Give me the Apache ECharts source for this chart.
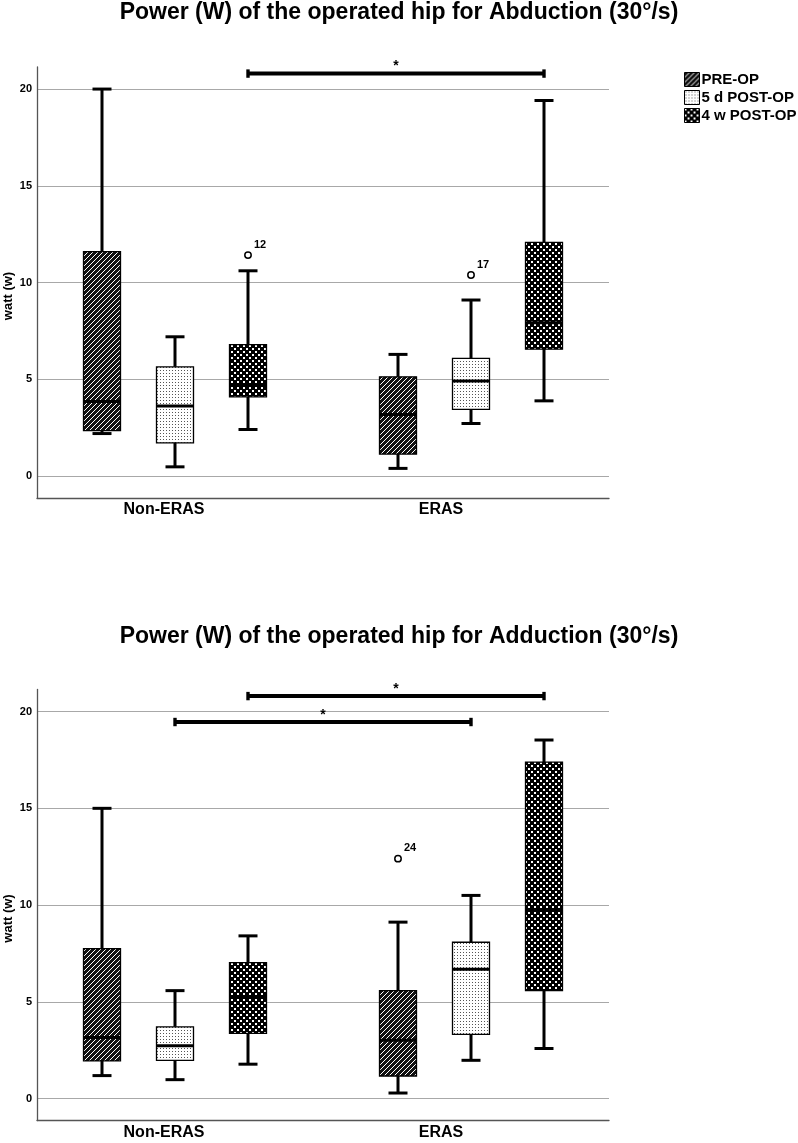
<!DOCTYPE html>
<html><head><meta charset="utf-8">
<script src="https://cdn.jsdelivr.net/npm/echarts@6/dist/echarts.min.js"></script>
<style>html,body{margin:0;padding:0;background:#fff}#c{width:798px;height:1143px}</style>
</head><body><div id="c"></div>
<script>
const categories = ['Non-ERAS', 'ERAS'];
const groups = ['PRE-OP', '5 d POST-OP', '4 w POST-OP'];
const yTicks = [0, 5, 10, 15, 20];
const titles = ['Power (W) of the operated hip for Abduction (30°/s)', 'Power (W) of the operated hip for Adduction (30°/s)'];
const yName = 'watt (w)';
// rows per category: [min, q1, median, q3, max]
const abdPre = [[2.2, 2.35, 3.85, 11.6, 20.0], [0.4, 1.14, 3.19, 5.13, 6.29]];
const abd5d  = [[0.48, 1.72, 3.63, 5.65, 7.2], [2.72, 3.45, 4.91, 6.08, 9.1]];
const abd4w  = [[2.41, 4.1, 4.74, 6.8, 10.61], [3.89, 6.56, 7.92, 12.08, 19.41]];
// outliers: [category, group, value, label]
const abdOutliers = [[0, 2, 11.42, '12'], [1, 1, 10.39, '17']];
// significance: [cat1, group1, cat2, group2, y]
const abdSig = [[0, 2, 1, 2, 20.8]];
const addPre = [[1.19, 1.95, 3.16, 7.75, 15.0], [0.29, 1.17, 3.02, 5.58, 9.12]];
const add5d  = [[0.98, 1.98, 2.73, 3.71, 5.58], [1.98, 3.32, 6.68, 8.08, 10.5]];
const add4w  = [[1.78, 3.37, 5.27, 7.03, 8.41], [2.59, 5.58, 9.76, 17.39, 18.53]];
const addOutliers = [[1, 0, 12.4, '24']];
const addSig = [[0, 2, 1, 2, 20.8], [0, 1, 1, 1, 19.46]];

const FONT = '"Liberation Sans", Arial, sans-serif';
const Y_MIN = -1.13, Y_MAX = 21.14;
const STEP = 73 / 286, BOXW = 37 / 286, SPREAD = 10 / 286, CAP = 19;

function makeCanvas(w, h, draw) {
  const c = document.createElement('canvas'); c.width = w; c.height = h;
  const ctx = c.getContext('2d'); draw(ctx); return c;
}
const hatch = makeCanvas(5, 5, ctx => {
  ctx.fillStyle = '#111'; ctx.fillRect(0, 0, 5, 5);
  ctx.fillStyle = '#fff';
  for (let x = 0; x < 5; x++) for (let y = 0; y < 5; y++) if ((x + y) % 5 === 4) ctx.fillRect(x, y, 1, 1);
});
const dots = makeCanvas(3, 3, ctx => {
  ctx.fillStyle = '#fff'; ctx.fillRect(0, 0, 3, 3);
  ctx.fillStyle = '#555'; ctx.fillRect(1, 1, 1, 1);
});
const checker = makeCanvas(6, 6, ctx => {
  ctx.fillStyle = '#000'; ctx.fillRect(0, 0, 6, 6);
  ctx.fillStyle = '#fff'; ctx.fillRect(0, 0, 2, 2); ctx.fillRect(3, 3, 2, 2);
});
const patterns = [
  {image: hatch, repeat: 'repeat'},
  {image: dots, repeat: 'repeat'},
  {image: checker, repeat: 'repeat'}
];

function centerX(api, cat, g) {
  const c = api.coord([cat, 0]);
  const band = api.size([1, 0])[0];
  return c[0] + (cat - 0.5) * band * SPREAD + (g - 1) * band * STEP;
}

function boxRender(g) {
  return function (params, api) {
    const cat = api.value(0);
    const band = api.size([1, 0])[0];
    const cx = centerX(api, cat, g);
    const y = i => api.coord([cat, api.value(i)])[1];
    const yMin = y(1), yQ1 = y(2), yMed = y(3), yQ3 = y(4), yMax = y(5);
    const hw = band * BOXW / 2, cw = CAP / 2;
    const ls = {stroke: '#000', lineWidth: 3};
    return {type: 'group', children: [
      {type: 'line', shape: {x1: cx, y1: yMax, x2: cx, y2: yMin}, style: ls},
      {type: 'line', shape: {x1: cx - cw, y1: yMax, x2: cx + cw, y2: yMax}, style: ls},
      {type: 'line', shape: {x1: cx - cw, y1: yMin, x2: cx + cw, y2: yMin}, style: ls},
      {type: 'rect', shape: {x: cx - hw, y: yQ3, width: hw * 2, height: yQ1 - yQ3},
        style: {fill: patterns[g], stroke: '#000', lineWidth: 1.3}},
      {type: 'line', shape: {x1: cx - hw, y1: yMed, x2: cx + hw, y2: yMed}, style: ls}
    ]};
  };
}
function outlierRender(params, api) {
  const cat = api.value(0), g = api.value(1);
  const cx = centerX(api, cat, g);
  const cy = api.coord([cat, api.value(2)])[1];
  return {type: 'group', children: [
    {type: 'circle', shape: {cx: cx, cy: cy, r: 3.2}, style: {fill: '#fff', stroke: '#000', lineWidth: 1.5}},
    {type: 'text', x: cx + 6, y: cy - 5,
      style: {text: String(api.value(3)), fill: '#000', font: 'bold 11px ' + FONT, align: 'left', verticalAlign: 'bottom'}}
  ]};
}
function sigRender(params, api) {
  const c1 = api.value(0), g1 = api.value(1), c2 = api.value(2), g2 = api.value(3);
  const x1 = centerX(api, c1, g1), x2 = centerX(api, c2, g2);
  const yy = api.coord([c1, api.value(4)])[1];
  return {type: 'group', children: [
    {type: 'line', shape: {x1: x1, y1: yy, x2: x2, y2: yy}, style: {stroke: '#000', lineWidth: 4}},
    {type: 'line', shape: {x1: x1, y1: yy - 4.2, x2: x1, y2: yy + 4.2}, style: {stroke: '#000', lineWidth: 3.4}},
    {type: 'line', shape: {x1: x2, y1: yy - 4.2, x2: x2, y2: yy + 4.2}, style: {stroke: '#000', lineWidth: 3.4}},
    {type: 'text', x: (x1 + x2) / 2, y: yy - 7,
      style: {text: '*', fill: '#000', font: 'bold 14px ' + FONT, align: 'center', verticalAlign: 'middle'}}
  ]};
}

const grids = [
  {left: 37, width: 572, top: 67, height: 431, containLabel: false, outerBoundsMode: 'none'},
  {left: 37, width: 572, top: 689.5, height: 431, containLabel: false, outerBoundsMode: 'none'}
];
function xAxisFor(i) {
  return {
    type: 'category', gridIndex: i, data: categories, boundaryGap: true,
    axisLine: {onZero: false, lineStyle: {color: '#555', width: 1.3}},
    axisTick: {show: false}, splitLine: {show: false},
    axisLabel: {
      margin: 4,
      formatter: (v, idx) => '{c' + idx + '|' + v + '}',
      rich: {
        c0: {fontSize: 16, fontWeight: 'bold', fontFamily: FONT, color: '#000', padding: [0, 32, 0, 0]},
        c1: {fontSize: 16, fontWeight: 'bold', fontFamily: FONT, color: '#000', padding: [0, 50, 0, 0]}
      }
    }
  };
}
function yAxisFor(i) {
  return {
    type: 'value', gridIndex: i, min: Y_MIN, max: Y_MAX,
    name: yName, nameLocation: 'middle', nameGap: 22, nameMoveOverlap: false,
    nameTextStyle: {fontSize: 13, fontWeight: 'bold', fontFamily: FONT, color: '#000', padding: [0, 27, 0, 0]},
    axisLine: {show: true, lineStyle: {color: '#555', width: 1.3}},
    axisTick: {show: false, customValues: yTicks},
    axisLabel: {customValues: yTicks, fontSize: 11, fontWeight: 'bold', fontFamily: FONT, color: '#000', margin: 5},
    splitLine: {show: true, lineStyle: {color: '#a8a8a8', width: 1.2}}
  };
}

const series = [];
[[abdPre, abd5d, abd4w, abdOutliers, abdSig], [addPre, add5d, add4w, addOutliers, addSig]].forEach((set, gi) => {
  for (let g = 0; g < 3; g++) {
    series.push({
      type: 'custom', name: groups[g], xAxisIndex: gi, yAxisIndex: gi,
      itemStyle: {color: patterns[g], borderColor: '#000', borderWidth: 1},
      renderItem: boxRender(g),
      encode: {x: 0, y: [1, 2, 3, 4, 5]},
      data: set[g].map((r, i) => [i].concat(r))
    });
  }
  series.push({
    type: 'custom', name: 'outliers' + gi, xAxisIndex: gi, yAxisIndex: gi,
    renderItem: outlierRender, encode: {x: 0, y: 2},
    data: set[3]
  });
  series.push({
    type: 'custom', name: 'sig' + gi, xAxisIndex: gi, yAxisIndex: gi,
    renderItem: sigRender, encode: {x: 0, y: 4}, clip: false,
    data: set[4]
  });
});

const chart = echarts.init(document.getElementById('c'), null, {renderer: 'canvas'});
chart.setOption({
  animation: false,
  backgroundColor: '#fff',
  title: [
    {text: titles[0], left: 'center', top: 1, padding: 0,
      textStyle: {fontSize: 23, fontWeight: 'bold', fontFamily: FONT, color: '#000'}},
    {text: titles[1], left: 'center', top: 625, padding: 0,
      textStyle: {fontSize: 23, fontWeight: 'bold', fontFamily: FONT, color: '#000'}}
  ],
  legend: {
    data: groups, orient: 'vertical', left: 684, top: 72, padding: 0,
    icon: 'rect', itemWidth: 15, itemHeight: 14, itemGap: 3,
    itemStyle: {borderColor: '#000', borderWidth: 1},
    textStyle: {fontSize: 15, fontWeight: 'bold', fontFamily: FONT, color: '#000', padding: [0, 0, 0, -3]}
  },
  grid: grids,
  xAxis: [xAxisFor(0), xAxisFor(1)],
  yAxis: [yAxisFor(0), yAxisFor(1)],
  series: series
});
</script>
</body></html>
